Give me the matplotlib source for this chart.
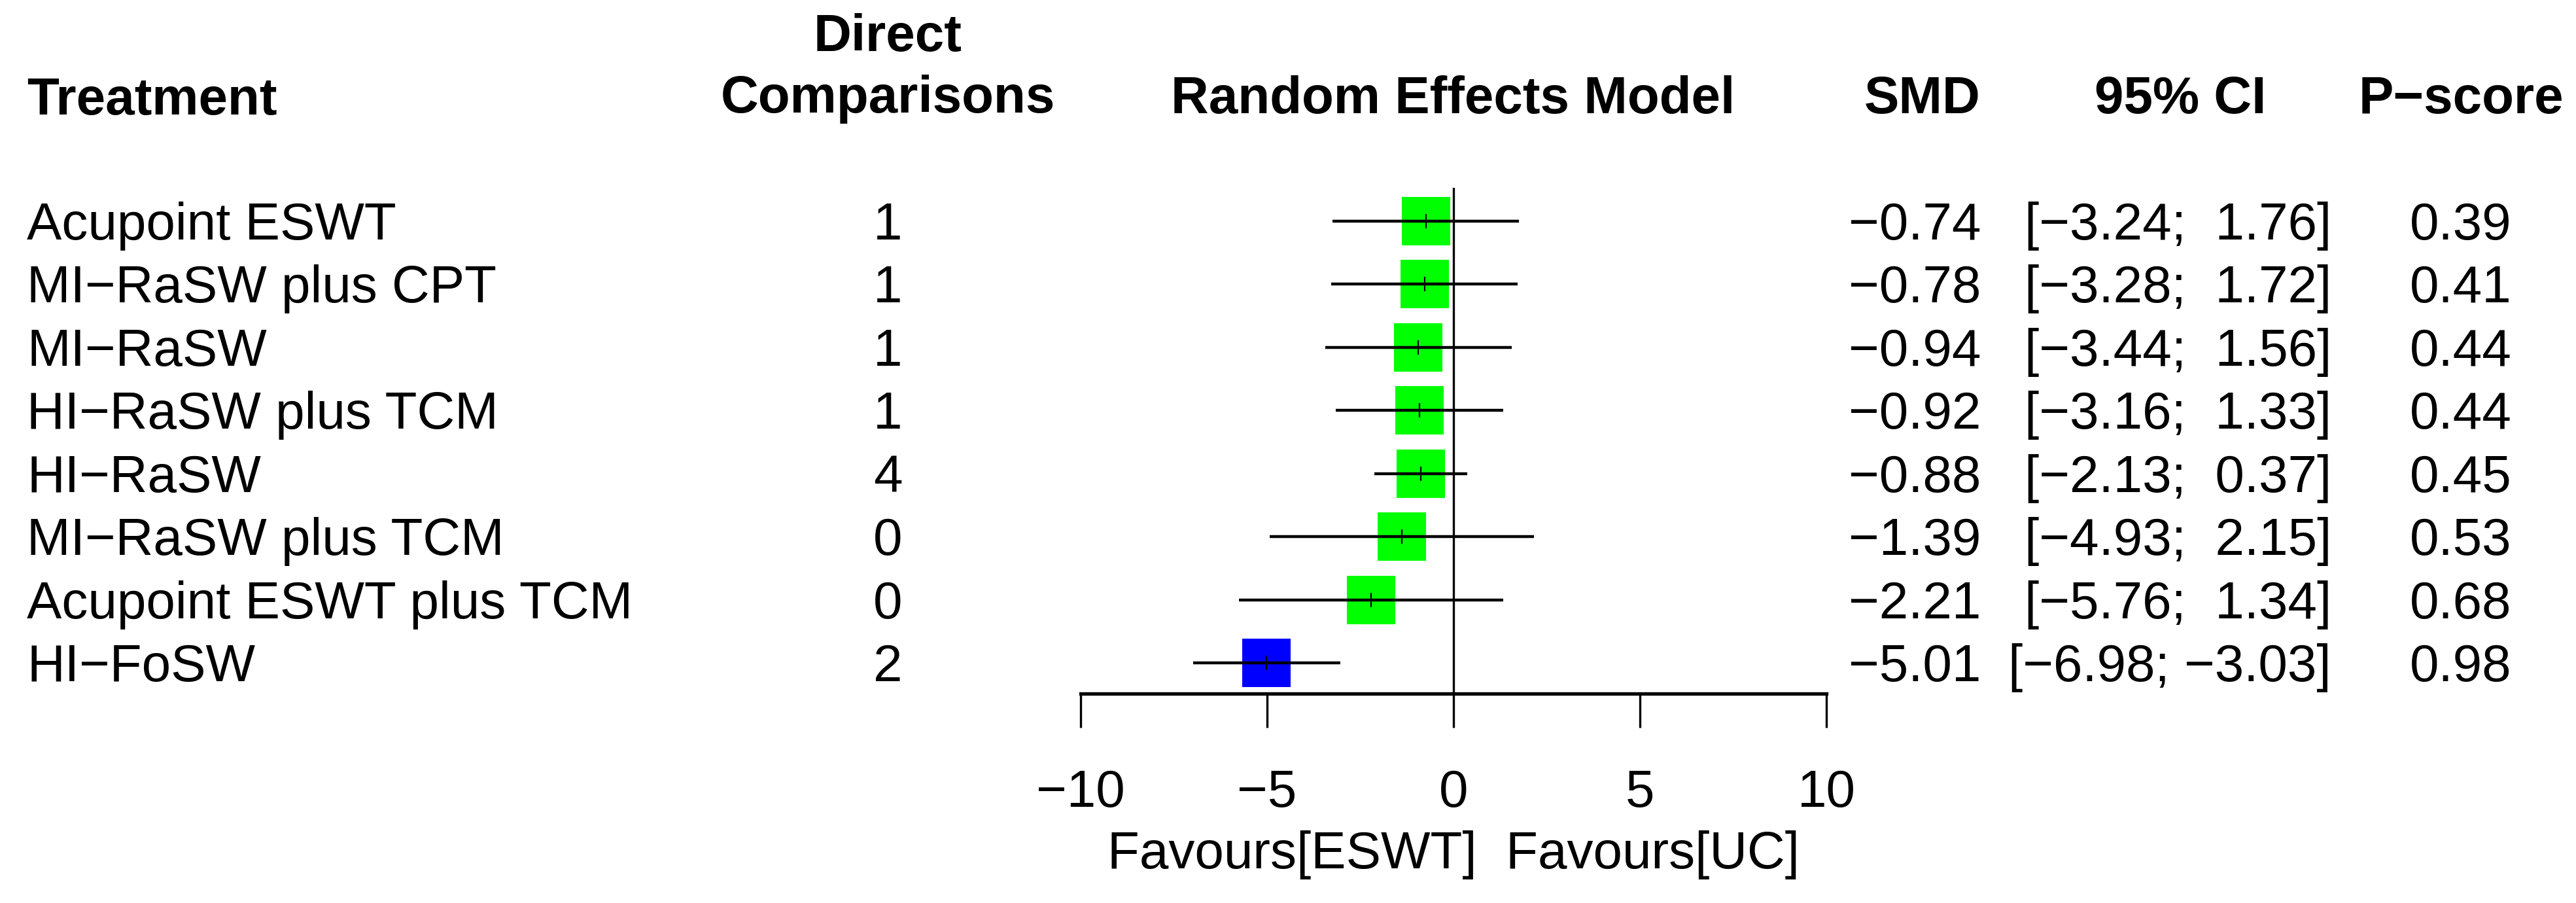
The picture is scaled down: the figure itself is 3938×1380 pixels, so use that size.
import matplotlib
matplotlib.use("Agg")
import matplotlib.pyplot as plt
import matplotlib.transforms as mtransforms
import numpy as np

plt.rcParams['font.family'] = ['Liberation Sans', 'DejaVu Sans']
plt.rcParams['axes.unicode_minus'] = True

# ---------------- data ----------------
treatments = ["Acupoint ESWT", "MI\u2212RaSW plus CPT", "MI\u2212RaSW", "HI\u2212RaSW plus TCM",
              "HI\u2212RaSW", "MI\u2212RaSW plus TCM", "Acupoint ESWT plus TCM", "HI\u2212FoSW"]
direct_comparisons = [1, 1, 1, 1, 4, 0, 0, 2]
smd = [-0.74, -0.78, -0.94, -0.92, -0.88, -1.39, -2.21, -5.01]
ci_lower = [-3.24, -3.28, -3.44, -3.16, -2.13, -4.93, -5.76, -6.98]
ci_upper = [1.76, 1.72, 1.56, 1.33, 0.37, 2.15, 1.34, -3.03]
p_score = [0.39, 0.41, 0.44, 0.44, 0.45, 0.53, 0.68, 0.98]
x_ticks = [-10, -5, 0, 5, 10]
x_label = "Favours[ESWT]  Favours[UC]"
headers = ["Treatment", "Direct\nComparisons", "Random Effects Model", "SMD", "95% CI", "P\u2212score"]

# ---------------- layout ----------------
W, H = 3938, 1380
DPI = 100
FS = 57.6  # 80 px
fig = plt.figure(figsize=(W / DPI, H / DPI), dpi=DPI)

def fx(px):
    return px / W

def fy(py_top):
    return 1 - py_top / H

row_top_px, row_step_px = 338.0, 96.43
ax_top_px, ax_bot_px = 287.0, 1060.0
x_left_px, x_right_px = 1652.0, 2792.0
ax = fig.add_axes([fx(x_left_px), fy(ax_bot_px), (x_right_px - x_left_px) / W,
                   (ax_bot_px - ax_top_px) / H])
n = len(treatments)
rows = np.arange(1, n + 1)
y_top = 1 - (row_top_px - ax_top_px) / row_step_px
y_bot = n + (ax_bot_px - (row_top_px + (n - 1) * row_step_px)) / row_step_px
ax.set_xlim(-10, 10)
ax.set_ylim(y_bot, y_top)

colors = ["#0000FF" if u < 0 else "#00FF00" for u in ci_upper]
sq = 74 * 72 / DPI
ax.scatter(smd, rows, marker='s', s=sq ** 2, c=colors, linewidths=0, zorder=2)
ax.hlines(rows, ci_lower, ci_upper, color='black', lw=3.2, zorder=3, capstyle='butt')
ax.plot(smd, rows, linestyle='none', marker='|', markersize=23 * 72 / DPI,
        mew=1.6, color='black', zorder=4)
ax.axvline(0, color='black', lw=2.4, zorder=1)

for s in ['top', 'left', 'right']:
    ax.spines[s].set_visible(False)
ax.spines['bottom'].set_linewidth(3.8)
ax.set_yticks([])
ax.set_xticks(x_ticks)
ax.tick_params(axis='x', direction='out', length=52 * 72 / DPI, width=2.4,
               labelsize=FS, pad=45)
ax.set_xlabel(x_label, fontsize=FS, labelpad=14)
ax.patch.set_alpha(0)

# text columns
base_off = mtransforms.ScaledTranslation(0, -28 / DPI, fig.dpi_scale_trans)
row_tr = mtransforms.blended_transform_factory(fig.transFigure, ax.transData) + base_off

for i, r in enumerate(rows):
    fig.text(fx(41), r, treatments[i], transform=row_tr, fontsize=FS, ha='left', va='baseline')
    fig.text(fx(1357), r, str(direct_comparisons[i]), transform=row_tr, fontsize=FS,
             ha='center', va='baseline')
    fig.text(fx(3028), r, f"{smd[i]:.2f}".replace('-', '\u2212'), transform=row_tr,
             fontsize=FS, ha='right', va='baseline')
    lo = f"{ci_lower[i]:5.2f}".replace('-', '\u2212')
    hi = f"{ci_upper[i]:5.2f}".replace('-', '\u2212')
    fig.text(fx(3564), r, f"[{lo}; {hi}]", transform=row_tr, fontsize=FS,
             ha='right', va='baseline')
    fig.text(fx(3762), r, f"{p_score[i]:.2f}", transform=row_tr, fontsize=FS,
             ha='center', va='baseline')

# headers
hb = fy(173)
fig.text(fx(41), fy(175), headers[0], fontsize=FS, fontweight='bold', ha='left', va='baseline')
d1, d2 = headers[1].split("\n")
fig.text(fx(1357), fy(78), d1, fontsize=FS, fontweight='bold', ha='center', va='baseline')
fig.text(fx(1357), fy(172), d2, fontsize=FS, fontweight='bold', ha='center', va='baseline')
fig.text(fx(2221), hb, headers[2], fontsize=FS, fontweight='bold', ha='center', va='baseline')
fig.text(fx(3028), hb, headers[3], fontsize=FS, fontweight='bold', ha='right', va='baseline')
fig.text(fx(3333), hb, headers[4], fontsize=FS, fontweight='bold', ha='center', va='baseline')
fig.text(fx(3762), hb, headers[5], fontsize=FS, fontweight='bold', ha='center', va='baseline')

fig.savefig("out.png", dpi=DPI, facecolor='white')
